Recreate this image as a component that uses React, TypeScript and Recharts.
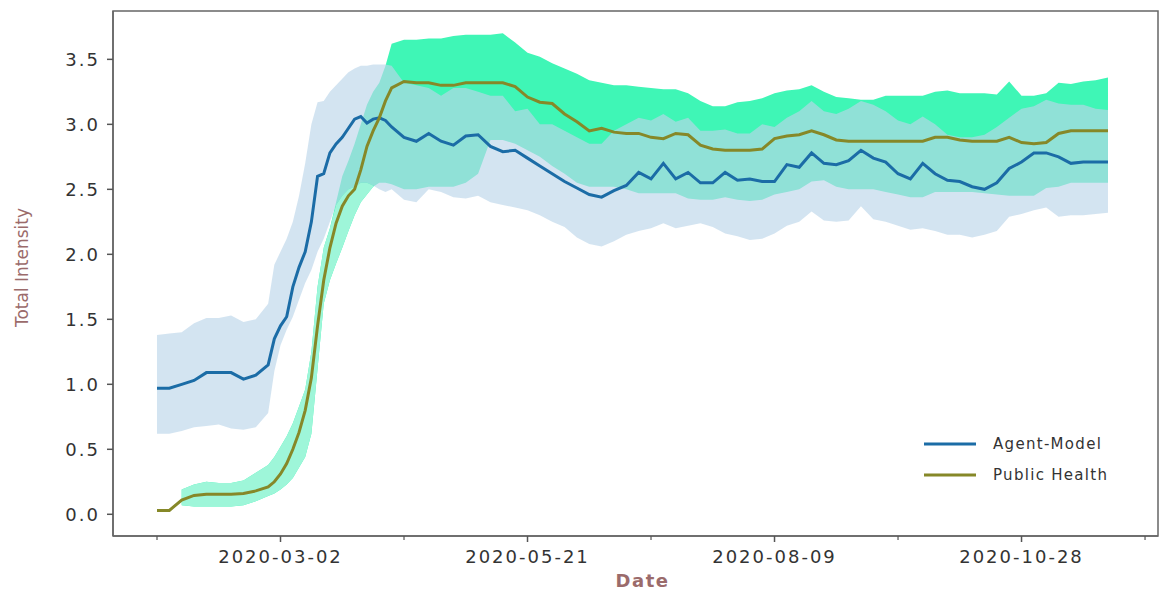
import React from "react";
import {
  ComposedChart,
  Area,
  Line,
  XAxis,
  YAxis,
  Legend,
  ReferenceArea,
} from "recharts";

// days since 2020-01-22
const days = [
  0, 4, 8, 12, 16, 20, 24, 28, 32, 36,
  38, 40, 42, 44, 46, 48, 50, 52, 54, 56,
  58, 60, 62, 64, 66, 68, 70, 72, 74, 76,
  80, 84, 88, 92, 96, 100, 104, 108, 112, 116,
  120, 124, 128, 132, 136, 140, 144, 148, 152, 156,
  160, 164, 168, 172, 176, 180, 184, 188, 192, 196,
  200, 204, 208, 212, 216, 220, 224, 228, 232, 236,
  240, 244, 248, 252, 256, 260, 264, 268, 272, 276,
  280, 284, 288, 292, 296, 300, 304, 308,
];

const agentMean = [
  0.97, 0.97, 1.0, 1.03, 1.09, 1.09, 1.09, 1.04, 1.07, 1.15,
  1.35, 1.45, 1.52, 1.75, 1.9, 2.02, 2.25, 2.6, 2.62, 2.78,
  2.85, 2.9, 2.97, 3.04, 3.06, 3.01, 3.04, 3.05, 3.03, 2.98,
  2.9, 2.87, 2.93, 2.87, 2.84, 2.91, 2.92, 2.83, 2.79, 2.8,
  2.74, 2.68, 2.62, 2.56, 2.51, 2.46, 2.44, 2.49, 2.53, 2.63,
  2.58, 2.7, 2.58, 2.63, 2.55, 2.55, 2.63, 2.57, 2.58, 2.56,
  2.56, 2.69, 2.67, 2.78, 2.7, 2.69, 2.72, 2.8, 2.74, 2.71,
  2.62, 2.58, 2.7, 2.62, 2.57, 2.56, 2.52, 2.5, 2.55, 2.66,
  2.71, 2.78, 2.78, 2.75, 2.7, 2.71, 2.71, 2.71,
];

const agentLow = [
  0.62, 0.62, 0.64, 0.67, 0.68, 0.69, 0.66, 0.65, 0.67, 0.78,
  1.1, 1.3, 1.42, 1.52, 1.65, 1.78, 1.88, 2.02, 2.12, 2.25,
  2.38, 2.45, 2.5, 2.52, 2.55, 2.55, 2.53, 2.5, 2.48, 2.5,
  2.42, 2.4, 2.5, 2.48, 2.44, 2.43, 2.45, 2.4, 2.38, 2.36,
  2.34, 2.3, 2.25, 2.21, 2.13, 2.08, 2.06, 2.1, 2.15, 2.18,
  2.2, 2.24, 2.2, 2.22, 2.24, 2.21, 2.16, 2.14, 2.11, 2.12,
  2.16, 2.22, 2.25, 2.33, 2.26, 2.25, 2.26, 2.37, 2.27, 2.25,
  2.22, 2.19, 2.2, 2.18, 2.15, 2.15, 2.13, 2.15, 2.18, 2.29,
  2.31, 2.34, 2.36, 2.29, 2.3, 2.3, 2.31, 2.32,
];

const agentHigh = [
  1.38, 1.39, 1.4, 1.47, 1.51, 1.51, 1.53, 1.48, 1.5, 1.62,
  1.92, 2.02, 2.12, 2.25, 2.45, 2.7, 3.0, 3.17, 3.18, 3.25,
  3.3, 3.35, 3.4, 3.43, 3.45, 3.45, 3.46, 3.46, 3.46, 3.45,
  3.32, 3.3, 3.28, 3.22, 3.28, 3.28, 3.25, 3.22, 3.22, 3.1,
  3.12, 3.0, 3.0, 2.95, 2.9, 2.85, 2.85, 2.95, 3.0, 3.05,
  3.03, 3.08, 3.02, 3.05, 2.95, 2.95, 2.96, 2.93, 2.93, 3.0,
  2.98, 3.05, 3.1, 3.18, 3.1, 3.08, 3.12, 3.18, 3.15, 3.1,
  3.03, 3.0, 3.06, 3.0, 2.92, 2.9, 2.9, 2.92, 2.98, 3.05,
  3.12, 3.14, 3.19, 3.16, 3.15, 3.15, 3.12, 3.11,
];

const healthMean = [
  0.03, 0.03, 0.11, 0.145, 0.155, 0.155, 0.155, 0.16, 0.18, 0.21,
  0.25, 0.31, 0.39, 0.5, 0.63, 0.8, 1.05, 1.45, 1.8, 2.05,
  2.24, 2.37, 2.45, 2.5, 2.65, 2.83, 2.95, 3.05, 3.18, 3.28,
  3.33, 3.32, 3.32, 3.3, 3.3, 3.32, 3.32, 3.32, 3.32, 3.29,
  3.21, 3.17, 3.16, 3.08, 3.02, 2.95, 2.97, 2.94, 2.93, 2.93,
  2.9, 2.89, 2.93, 2.92, 2.84, 2.81, 2.8, 2.8, 2.8, 2.81,
  2.89, 2.91, 2.92, 2.95, 2.92, 2.88, 2.87, 2.87, 2.87, 2.87,
  2.87, 2.87, 2.87, 2.9, 2.9, 2.88, 2.87, 2.87, 2.87, 2.9,
  2.86, 2.85, 2.86, 2.93, 2.95, 2.95, 2.95, 2.95,
];

const healthLow = [
  null, null, 0.07, 0.06, 0.06, 0.06, 0.06, 0.07, 0.1, 0.14,
  0.16, 0.19, 0.23, 0.28, 0.36, 0.44, 0.62, 1.12, 1.62, 1.8,
  1.93, 2.05, 2.18, 2.3, 2.4, 2.46, 2.52, 2.55, 2.55, 2.54,
  2.5, 2.5, 2.52, 2.52, 2.52, 2.55, 2.62, 2.88, 2.88, 2.85,
  2.8, 2.75, 2.68, 2.62, 2.55, 2.52, 2.52, 2.52, 2.5, 2.47,
  2.47, 2.47, 2.47, 2.43, 2.42, 2.42, 2.44, 2.42, 2.41, 2.42,
  2.46, 2.48, 2.5, 2.56, 2.57, 2.52, 2.5, 2.5, 2.5, 2.48,
  2.46, 2.44, 2.44, 2.48, 2.48, 2.48, 2.48, 2.47, 2.46, 2.45,
  2.45, 2.45, 2.51, 2.52, 2.55, 2.55, 2.55, 2.55,
];

const healthHigh = [
  null, null, 0.19, 0.23, 0.25, 0.24, 0.24, 0.26, 0.32, 0.38,
  0.44, 0.52, 0.6, 0.7, 0.83, 0.96, 1.25, 1.75, 2.05, 2.2,
  2.4, 2.6, 2.72, 2.85, 3.0, 3.15, 3.25, 3.32, 3.45, 3.62,
  3.65, 3.65, 3.66, 3.66, 3.68, 3.69, 3.69, 3.69, 3.7, 3.63,
  3.55, 3.52, 3.47, 3.43, 3.39, 3.34, 3.32, 3.3, 3.3, 3.29,
  3.28, 3.27, 3.27, 3.24, 3.18, 3.14, 3.14, 3.17, 3.18, 3.2,
  3.24, 3.26, 3.27, 3.3, 3.25, 3.21, 3.2, 3.19, 3.19, 3.22,
  3.22, 3.22, 3.22, 3.25, 3.26, 3.24, 3.24, 3.24, 3.23, 3.33,
  3.22, 3.22, 3.24, 3.32, 3.31, 3.33, 3.34, 3.36,
];

const xTicks = [0, 40, 80, 120, 160, 200, 240, 280, 320];
const xTickDays = [40, 120, 200, 280];
const xTickLabels = ["2020-03-02", "2020-05-21", "2020-08-09", "2020-10-28"];
const yTicks = [0, 0.5, 1, 1.5, 2, 2.5, 3, 3.5];
const legendKeys = ["agent", "health"];

const X_DOMAIN: [number, number] = [-14.25, 324.2];
const Y_DOMAIN: [number, number] = [-0.167, 3.872];

const FONT = "'DejaVu Sans', sans-serif";

const data = days.map((d, i) => {
  const lo = healthLow[i];
  const hi = healthHigh[i];
  const hasBand = lo != null && hi != null;
  // part of the early public-health band that sits below the agent band
  const mint =
    hasBand && d <= 70 && lo < agentLow[i]
      ? [lo, Math.min(hi as number, agentLow[i])]
      : null;
  return {
    d,
    agent: agentMean[i],
    agentBand: [agentLow[i], agentHigh[i]],
    health: healthMean[i],
    healthBand: hasBand ? [lo, hi] : null,
    healthMint: mint,
  };
});

function XTick(props: any) {
  const { x, y, payload } = props;
  const idx = xTickDays.indexOf(payload.value);
  const major = idx >= 0;
  return (
    <g>
      <line
        x1={x}
        x2={x}
        y1={y}
        y2={y + (major ? 6 : 4)}
        stroke="#555"
        strokeWidth={major ? 1.5 : 1.2}
      />
      {major && (
        <text
          x={x}
          y={y + 27}
          textAnchor="middle"
          fontFamily={FONT}
          fontSize={18}
          letterSpacing={2}
          fill="#333"
        >
          {xTickLabels[idx]}
        </text>
      )}
    </g>
  );
}

function YTick(props: any) {
  const { x, y, payload } = props;
  return (
    <text
      x={x}
      y={y}
      dy={6.5}
      textAnchor="end"
      fontFamily={FONT}
      fontSize={18}
      letterSpacing={2}
      fill="#333"
    >
      {Number(payload.value).toFixed(1)}
    </text>
  );
}

function DateLabel(props: any) {
  const vb = props.viewBox || { x: 113, y: 536, width: 1045, height: 56 };
  return (
    <text
      x={vb.x + vb.width / 2 + 7}
      y={587}
      textAnchor="middle"
      fontFamily={FONT}
      fontSize={18}
      fontWeight="bold"
      letterSpacing={1.5}
      fill="#9b6b6b"
    >
      Date
    </text>
  );
}

function IntensityLabel(props: any) {
  const vb = props.viewBox || { x: 0, y: 11, width: 113, height: 525 };
  const cy = vb.y + vb.height / 2 - 6;
  return (
    <text
      x={28}
      y={cy}
      transform={`rotate(-90, 28, ${cy})`}
      textAnchor="middle"
      fontFamily={FONT}
      fontSize={17}
      fill="#9b6b6b"
    >
      Total Intensity
    </text>
  );
}

function LegendBox(props: any) {
  const items = (props.payload || []).filter((item: any) =>
    legendKeys.includes(item.dataKey)
  );
  return (
    <div style={{ fontFamily: FONT, fontSize: 15, color: "#333" }}>
      {items.map((item: any) => (
        <div
          key={item.value}
          style={{ display: "flex", alignItems: "center", height: 31 }}
        >
          <svg width={52} height={6} style={{ display: "block" }}>
            <line x1={0} x2={52} y1={3} y2={3} stroke={item.color} strokeWidth={3} />
          </svg>
          <span style={{ marginLeft: 17, letterSpacing: 1.3, whiteSpace: "nowrap" }}>
            {item.value}
          </span>
        </div>
      ))}
    </div>
  );
}

export default function App() {
  return (
    <div style={{ position: "absolute", left: 0, top: 0, background: "#fff" }}>
      <ComposedChart
        width={1159}
        height={592}
        data={data}
        margin={{ top: 11, right: 1, bottom: 0, left: 0 }}
      >
        <XAxis
          dataKey="d"
          type="number"
          domain={X_DOMAIN}
          ticks={xTicks}
          interval={0}
          height={56}
          tickSize={0}
          tickMargin={0}
          tickLine={false}
          tick={<XTick />}
          axisLine={{ stroke: "#666", strokeWidth: 1.5 }}
          label={<DateLabel />}
        />
        <YAxis
          type="number"
          domain={Y_DOMAIN}
          ticks={yTicks}
          interval={0}
          width={113}
          tickSize={6}
          tickMargin={7}
          tickLine={{ stroke: "#555", strokeWidth: 1.5 }}
          tick={<YTick />}
          axisLine={{ stroke: "#666", strokeWidth: 1.5 }}
          label={<IntensityLabel />}
        />
        <ReferenceArea
          x1={X_DOMAIN[0]}
          x2={X_DOMAIN[1]}
          y1={Y_DOMAIN[0]}
          y2={Y_DOMAIN[1]}
          fill="none"
          stroke="#666"
          strokeWidth={1.5}
          ifOverflow="visible"
        />
        <Area
          dataKey="healthBand"
          stroke="none"
          fill="#3ff6b6"
          fillOpacity={1}
          legendType="none"
          dot={false}
          activeDot={false}
          isAnimationActive={false}
        />
        <Area
          dataKey="healthMint"
          stroke="none"
          fill="#9ef6d9"
          fillOpacity={1}
          legendType="none"
          dot={false}
          activeDot={false}
          isAnimationActive={false}
        />
        <Area
          dataKey="agentBand"
          stroke="none"
          fill="#bcd6e9"
          fillOpacity={0.65}
          legendType="none"
          dot={false}
          activeDot={false}
          isAnimationActive={false}
        />
        <Line
          dataKey="agent"
          name="Agent-Model"
          stroke="#1b6ca6"
          strokeWidth={3}
          dot={false}
          activeDot={false}
          isAnimationActive={false}
        />
        <Line
          dataKey="health"
          name="Public Health"
          stroke="#868828"
          strokeWidth={3}
          dot={false}
          activeDot={false}
          isAnimationActive={false}
        />
        <Legend
          layout="vertical"
          align="center"
          verticalAlign="middle"
          content={<LegendBox />}
          wrapperStyle={{ left: 924, top: 428.5, width: 230 }}
        />
      </ComposedChart>
    </div>
  );
}
